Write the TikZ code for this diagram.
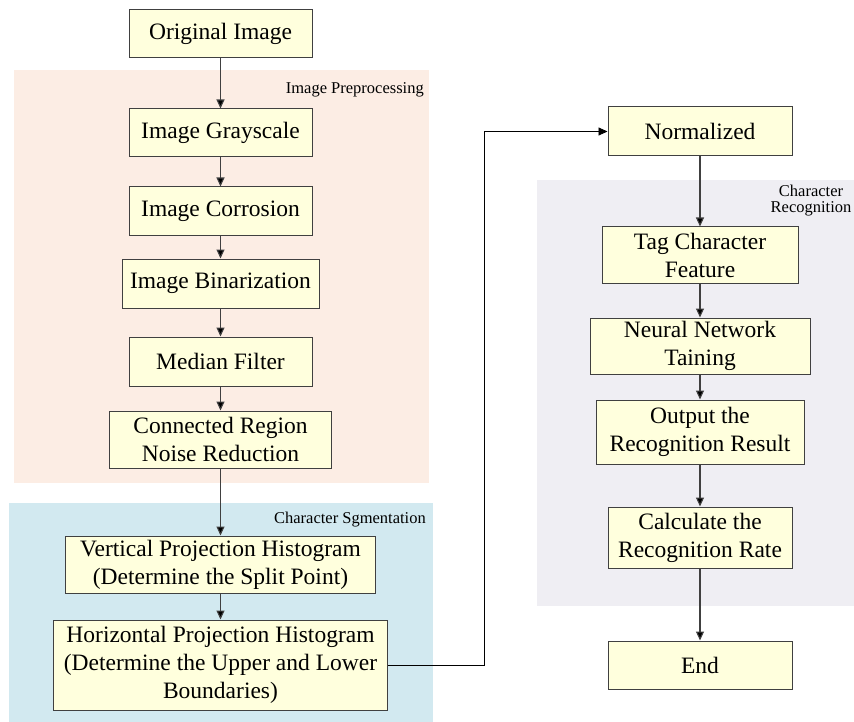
\documentclass[tikz,border=0pt]{standalone}
\usepackage{fontspec}
\setmainfont{Liberation Serif}
\usetikzlibrary{arrows.meta}

\definecolor{boxfill}{HTML}{FFFFDD}
\definecolor{boxline}{HTML}{404040}
\definecolor{prepfill}{HTML}{FCEDE4}
\definecolor{segfill}{HTML}{D2E9F0}
\definecolor{recfill}{HTML}{EFEEF3}

\tikzset{
  stepbox/.style={draw=boxline, fill=boxfill, line width=1pt, inner sep=0pt,
    align=center, font=\fontsize{23.5}{28}\selectfont},
  grouplabel/.style={inner sep=0pt, font=\fontsize{16.5}{16}\selectfont},
  flow/.style={draw=boxline, line width=1.1pt, -{Triangle[length=9pt,width=8pt,fill=black]}}
}

\begin{document}
\begin{tikzpicture}[x=1pt, y=-1pt]
\useasboundingbox (0,0) rectangle (854,722);

% groups
\fill[prepfill] (14,70) rectangle (429,483);
\fill[segfill] (9,503) rectangle (433,722);
\fill[recfill] (537,180) rectangle (854,606);
\node[grouplabel, anchor=east] (prep) at (424,90) {Image Preprocessing};
\node[grouplabel, anchor=east] (seg) at (426,520) {Character Sgmentation};
\node[grouplabel, align=center] (rec) at (811,201) {Character\\Recognition};

% left column
\node[stepbox, minimum width=183pt, minimum height=48pt] (orig) at (220.5,34) {Original Image};
\node[stepbox, minimum width=183pt, minimum height=48pt] (gray) at (220.5,133) {Image Grayscale};
\node[stepbox, minimum width=183pt, minimum height=49pt] (corr) at (220.5,211.5) {Image Corrosion};
\node[stepbox, minimum width=197pt, minimum height=49pt] (bin) at (220.5,283.5) {Image Binarization};
\node[stepbox, minimum width=183pt, minimum height=49pt] (median) at (220.5,361.5) {Median Filter};
\node[stepbox, minimum width=222pt, minimum height=57pt] (conn) at (220.5,439.5) {Connected Region\\Noise Reduction};
\node[stepbox, minimum width=310pt, minimum height=57pt] (vert) at (220.5,564.5) {Vertical Projection Histogram\\(Determine the Split Point)};
\node[stepbox, minimum width=334pt, minimum height=90pt] (horiz) at (220.5,665) {Horizontal Projection Histogram\\(Determine the Upper and Lower\\Boundaries)};

% right column
\node[stepbox, minimum width=184pt, minimum height=49pt] (norm) at (700,131.5) {Normalized};
\node[stepbox, minimum width=196pt, minimum height=56pt] (tag) at (700,255) {Tag Character\\Feature};
\node[stepbox, minimum width=220pt, minimum height=56pt] (neural) at (700,346) {Neural Network\\Taining};
\node[stepbox, minimum width=208pt, minimum height=64pt] (output) at (700,432) {Output the\\Recognition Result};
\node[stepbox, minimum width=184pt, minimum height=61pt] (calc) at (700,537.5) {Calculate the\\Recognition Rate};
\node[stepbox, minimum width=184pt, minimum height=48pt] (end) at (700,665) {End};

\draw[flow] (orig) -- (gray);
\draw[flow] (gray) -- (corr);
\draw[flow] (corr) -- (bin);
\draw[flow] (bin) -- (median);
\draw[flow] (median) -- (conn);
\draw[flow] (conn) -- (vert);
\draw[flow] (vert) -- (horiz);

\coordinate (turn) at (484,665);
\draw[flow, draw=black, line width=0.9pt] (horiz.east) -- (turn) |- (norm.west);

\draw[flow] (norm) -- (tag);
\draw[flow] (tag) -- (neural);
\draw[flow] (neural) -- (output);
\draw[flow] (output) -- (calc);
\draw[flow] (calc) -- (end);
%
\end{tikzpicture}
\end{document}
